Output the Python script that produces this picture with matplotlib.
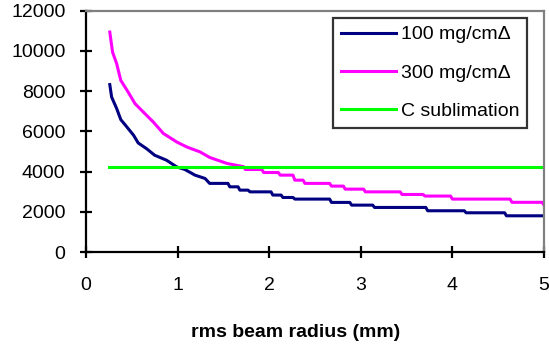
import numpy as np
import matplotlib.pyplot as plt

plt.rcParams['font.family'] = ['Liberation Sans', 'DejaVu Sans']

# rms beam radius (mm) vs temperature
r_100 = [0.26, 0.28, 0.335, 0.38, 0.44, 0.52, 0.57, 0.66, 0.75, 0.88, 0.99, 1.08,
         1.19, 1.30, 1.35, 1.55, 1.57, 1.66, 1.68, 1.77, 1.79, 2.02, 2.04, 2.13, 2.15,
         2.26, 2.28, 2.66, 2.68, 2.88, 2.90, 3.13, 3.15, 3.71, 3.73, 4.13, 4.15,
         4.57, 4.59, 5.0]
t_100 = [8320, 7700, 7130, 6580, 6250, 5800, 5420, 5140, 4810, 4560, 4230, 4100,
         3820, 3655, 3410, 3410, 3240, 3240, 3075, 3075, 2990, 2990, 2830, 2830, 2710,
         2710, 2630, 2630, 2465, 2465, 2330, 2330, 2215, 2215, 2050, 2050, 1950,
         1950, 1800, 1800]

r_300 = [0.26, 0.29, 0.335, 0.38, 0.46, 0.535, 0.625, 0.735, 0.845, 0.99, 1.10,
         1.245, 1.35, 1.54, 1.72, 1.74, 1.92, 1.94, 2.10, 2.12, 2.26, 2.28, 2.37,
         2.39, 2.66, 2.68, 2.81, 2.83, 3.03, 3.05, 3.43, 3.45, 3.68, 3.70, 3.98,
         4.00, 4.63, 4.65, 4.98, 5.0]
t_300 = [10930, 9935, 9360, 8530, 7950, 7375, 6960, 6460, 5890, 5470, 5220,
         4975, 4700, 4400, 4240, 4100, 4100, 3950, 3950, 3820, 3820, 3570, 3570,
         3410, 3410, 3275, 3275, 3125, 3125, 2990, 2990, 2860, 2860, 2780, 2780,
         2630, 2630, 2470, 2470, 2330]

r_sub = [0.25, 5.0]
t_sub = [4200, 4200]

labels = ['100 mg/cm\u0394', '300 mg/cm\u0394', 'C sublimation']
colors = ['#000080', '#FF00FF', '#00FF00']

fig = plt.figure(figsize=(5.49, 3.51), dpi=100)
ax = fig.add_axes([0.1566, 0.282, 0.8343, 0.688])

ax.plot(r_100, t_100, color=colors[0], lw=2.2, label=labels[0])
ax.plot(r_300, t_300, color=colors[1], lw=2.2, label=labels[1])
ax.plot(r_sub, t_sub, color=colors[2], lw=2.2, label=labels[2])

ax.set_xlim(0, 5)
ax.set_ylim(0, 12000)
ax.set_xticks(range(0, 6))
ax.set_yticks(range(0, 12001, 2000))

for s in ['left', 'bottom']:
    ax.spines[s].set_linewidth(1.6)
    ax.spines[s].set_color('black')
for s in ['top', 'right']:
    ax.spines[s].set_linewidth(1.6)
    ax.spines[s].set_color('#808080')

ax.tick_params(direction='inout', length=8.6, width=1.6, labelsize=14)
ax.tick_params(axis='y', pad=10.5)
ax.tick_params(axis='x', pad=13.5)

# x label sits left of the axes centre in the original
fig.text(296 / 549, 1 - 337 / 351, 'rms beam radius (mm)', fontsize=14,
         fontweight='bold', ha='center', va='baseline')

leg = ax.legend(loc='upper right', bbox_to_anchor=(0.963, 0.969), fontsize=14,
                frameon=True, fancybox=False, handlelength=2.85, handletextpad=0.25,
                labelspacing=1.06, borderpad=0.4, borderaxespad=0)
leg.get_frame().set_edgecolor('black')
leg.get_frame().set_linewidth(1.6)

fig.savefig('out.png', dpi=100)
